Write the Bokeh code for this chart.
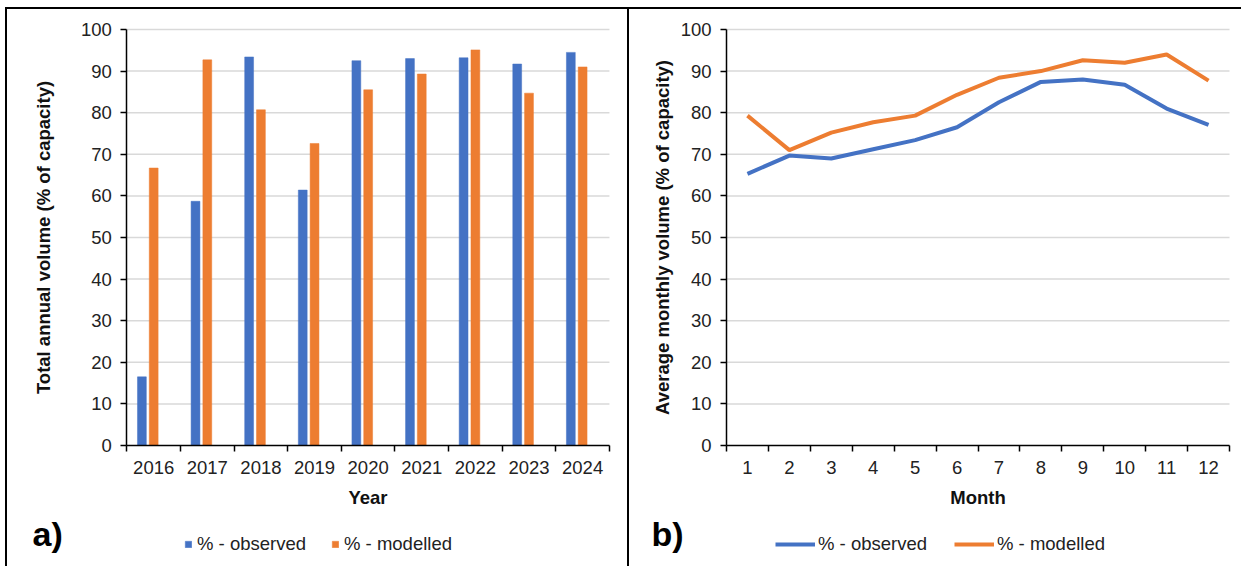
from bokeh.plotting import figure
from bokeh.layouts import row
from bokeh.models import (FixedTicker, Range1d, Legend, LegendItem, Label,
                          ColumnDataSource)
from bokeh.transform import dodge
from bokeh.embed import file_html
from bokeh.resources import INLINE

# ---------------- data ----------------
years = [2016, 2017, 2018, 2019, 2020, 2021, 2022, 2023, 2024]
annual_observed = [16.5, 58.7, 93.4, 61.4, 92.5, 93.0, 93.2, 91.7, 94.5]
annual_modelled = [66.7, 92.7, 80.7, 72.6, 85.5, 89.3, 95.1, 84.7, 91.0]

months = [1, 2, 3, 4, 5, 6, 7, 8, 9, 10, 11, 12]
monthly_observed = [65.3, 69.7, 69.0, 71.2, 73.4, 76.5, 82.5, 87.4, 88.0, 86.7, 81.0, 77.1]
monthly_modelled = [79.3, 71.0, 75.2, 77.7, 79.3, 84.3, 88.4, 90.0, 92.6, 92.0, 94.0, 87.7]

y_ticks = [0, 10, 20, 30, 40, 50, 60, 70, 80, 90, 100]

BLUE = "#4472C4"
ORANGE = "#ED7D31"
FONT = "Liberation Sans"
FS = "18.5px"

FIG_H = 557          # figure height (px)
PLOT_TOP = 20        # px from figure top to value 100
PLOT_H = 416         # px from 100 down to 0


def make_panel(fig_w, plot_left, plot_w, cats, ylabel, xlabel, ystand):
    x0, x1 = cats[0] - 0.5, cats[-1] + 0.5
    upp = (x1 - x0) / plot_w
    xr = Range1d(x0 - plot_left * upp, x1 + (fig_w - plot_left - plot_w) * upp)
    vpp = 100.0 / PLOT_H
    yr = Range1d(0 - (FIG_H - PLOT_TOP - PLOT_H) * vpp, 100 + PLOT_TOP * vpp)
    p = figure(frame_width=fig_w, frame_height=FIG_H, min_border=0,
               x_range=xr, y_range=yr, output_backend="svg",
               toolbar_location=None)
    p.grid.visible = False
    p.outline_line_color = None
    p.background_fill_color = "white"
    p.border_fill_color = "white"

    # horizontal gridlines at the y ticks, spanning the category extent
    p.segment(x0=[x0] * (len(y_ticks) - 1), x1=[x1] * (len(y_ticks) - 1),
              y0=y_ticks[1:], y1=y_ticks[1:],
              line_color="#D9D9D9", line_width=1.5)

    for ax in p.axis:
        ax.axis_line_color = "black"
        ax.axis_line_width = 1.5
        ax.major_label_text_font = FONT
        ax.major_label_text_font_size = FS
        ax.major_label_text_color = "#222222"
        ax.axis_label_text_font = FONT
        ax.axis_label_text_font_size = FS
        ax.axis_label_text_font_style = "bold"
        ax.axis_label_text_color = "#111111"
        ax.major_label_standoff = 9

    ya = p.yaxis[0]
    ya.ticker = FixedTicker(ticks=y_ticks)
    ya.fixed_location = x0
    ya.bounds = (0, 100)
    ya.major_tick_in = 0
    ya.major_tick_out = 6
    ya.major_tick_line_width = 1.5
    ya.minor_tick_line_color = None
    ya.axis_label = ylabel
    ya.axis_label_standoff = ystand

    xa = p.xaxis[0]
    xa.ticker = FixedTicker(ticks=cats,
                            minor_ticks=[c - 0.5 for c in cats] + [cats[-1] + 0.5])
    xa.fixed_location = 0
    xa.bounds = (x0, x1)
    xa.major_tick_line_color = None
    xa.minor_tick_in = 0
    xa.minor_tick_out = 6
    xa.minor_tick_line_width = 1.5
    xa.minor_tick_line_color = "black"
    xa.axis_label = xlabel
    xa.axis_label_standoff = 10
    return p


# ---------------- panel a ----------------
p1 = make_panel(620, 119, 481, years, "Total annual volume (% of capacity)", "Year", 24)
src1 = ColumnDataSource(dict(year=years, obs=annual_observed, mod=annual_modelled))
r_obs = p1.vbar(x=dodge("year", -0.22, range=p1.x_range), top="obs", width=0.165,
                source=src1, fill_color=BLUE, line_color=BLUE, line_width=0.5)
r_mod = p1.vbar(x=dodge("year", 0.0, range=p1.x_range), top="mod", width=0.165,
                source=src1, fill_color=ORANGE, line_color=ORANGE, line_width=0.5)

leg1 = Legend(items=[LegendItem(label="% - observed", renderers=[r_obs]),
                     LegendItem(label="% - modelled", renderers=[r_mod])],
              location=(177, 11), orientation="horizontal",
              label_text_font=FONT, label_text_font_size=FS,
              label_text_color="#222222",
              glyph_width=8, glyph_height=8, label_standoff=5, spacing=25,
              padding=0, margin=0, border_line_color=None,
              background_fill_alpha=0)
p1.add_layout(leg1, "center")
p1.add_layout(Label(x=25, y=33, x_units="screen", y_units="screen", text="a)",
                    text_font=FONT, text_font_size="34px", text_baseline="middle",
                    text_font_style="bold", text_color="black"))

# ---------------- panel b ----------------
p2 = make_panel(612, 97, 503, months, "Average monthly volume (% of capacity)", "Month", 5)
src2 = ColumnDataSource(dict(m=months, obs=monthly_observed, mod=monthly_modelled))
l_obs = p2.line("m", "obs", source=src2, line_color=BLUE, line_width=4)
l_mod = p2.line("m", "mod", source=src2, line_color=ORANGE, line_width=4)

leg2 = Legend(items=[LegendItem(label="% - observed", renderers=[l_obs]),
                     LegendItem(label="% - modelled", renderers=[l_mod])],
              location=(146, 11), orientation="horizontal",
              label_text_font=FONT, label_text_font_size=FS,
              label_text_color="#222222",
              glyph_width=40, glyph_height=10, label_standoff=3, spacing=27,
              padding=0, margin=0, border_line_color=None,
              background_fill_alpha=0)
p2.add_layout(leg2, "center")
p2.add_layout(Label(x=22, y=33, x_units="screen", y_units="screen", text="b)",
                    text_font=FONT, text_font_size="34px", text_baseline="middle",
                    text_font_style="bold", text_color="black"))

p1.styles = {"border-right": "2px solid black"}
layout = row(p1, p2)
layout.styles = {"margin-left": "5px", "margin-top": "7px",
                 "border-top": "2px solid black", "border-left": "2px solid black"}

open("out.html", "w").write(file_html(layout, INLINE))
